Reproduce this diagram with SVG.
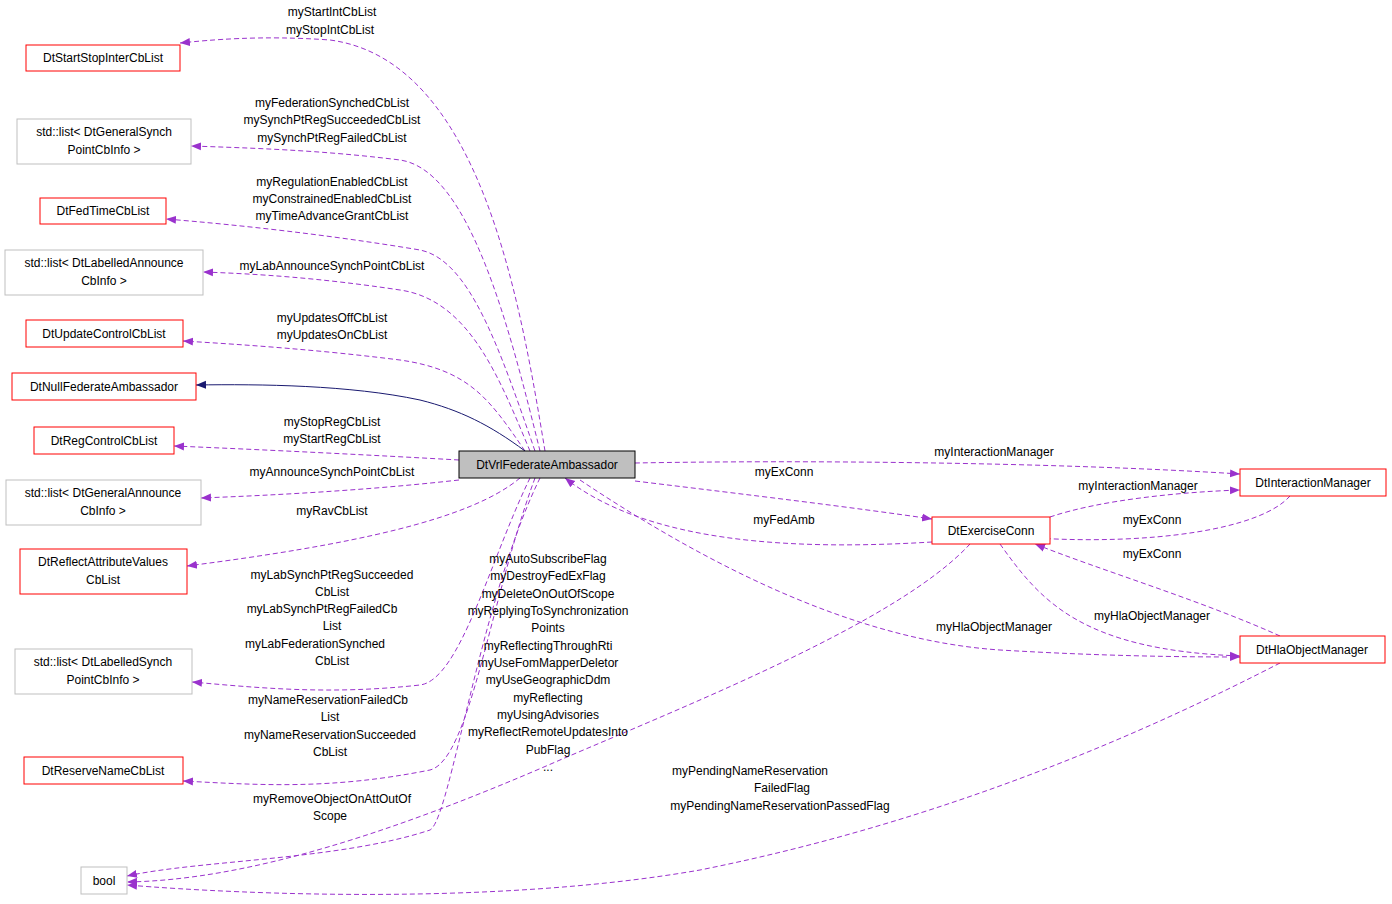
<svg xmlns="http://www.w3.org/2000/svg" width="1392" height="904" viewBox="0 0 1392 904">
<style>
text{font-family:"Liberation Sans",Arial,sans-serif;font-size:12px;fill:#000;text-anchor:middle}
.r{fill:#fff;stroke:#ff0000;stroke-width:1}
.g{fill:#fff;stroke:#bfbfbf;stroke-width:1}
.e{fill:none;stroke:#9a32cd;stroke-dasharray:5,3}
.s{fill:none;stroke:#191970}
</style>
<defs>
<marker id="a" viewBox="0 0 10 10" refX="10" refY="5" markerWidth="10" markerHeight="10" markerUnits="userSpaceOnUse" orient="auto"><path d="M0,1 L10,5 L0,9z" fill="#9a32cd"/></marker>
<marker id="n" viewBox="0 0 10 10" refX="10" refY="5" markerWidth="10" markerHeight="10" markerUnits="userSpaceOnUse" orient="auto"><path d="M0,1 L10,5 L0,9z" fill="#191970"/></marker>
</defs>
<rect width="1392" height="904" fill="#fff"/>
<g id="edges">
<path class="e" marker-end="url(#a)" d="M545,451 C520,300 480,60 330,40 C260,35 210,40 180,43"/>
<path class="e" marker-end="url(#a)" d="M540,451 C510,330 470,170 400,160 C320,150 250,148 191,146"/>
<path class="e" marker-end="url(#a)" d="M535,451 C500,350 470,260 420,250 C330,235 240,225 166,219"/>
<path class="e" marker-end="url(#a)" d="M530,451 C500,380 470,300 400,290 C320,278 260,274 203,272"/>
<path class="e" marker-end="url(#a)" d="M525,451 C490,400 470,370 400,360 C320,350 250,345 183,341"/>
<path class="s" marker-end="url(#n)" d="M525,451 C490,425 460,410 420,400 C350,385 260,384 196,385"/>
<path class="e" marker-end="url(#a)" d="M459,460 C370,455 270,450 174,446"/>
<path class="e" marker-end="url(#a)" d="M459,480 C370,490 280,495 201,498"/>
<path class="e" marker-end="url(#a)" d="M520,478 C470,520 350,545 187,566"/>
<path class="e" marker-end="url(#a)" d="M530,478 C490,560 460,680 420,685 C330,695 260,688 192,682"/>
<path class="e" marker-end="url(#a)" d="M535,478 C490,600 470,760 430,770 C330,790 260,785 183,781"/>
<path class="e" marker-end="url(#a)" d="M540,478 C480,600 450,820 430,830 C340,860 200,860 127,876"/>
<path class="e" marker-end="url(#a)" d="M970,544 C900,620 700,700 560,760 C400,830 250,880 127,882"/>
<path class="e" marker-end="url(#a)" d="M1280,663 C1150,730 950,820 700,870 C500,905 250,895 127,885"/>
<path class="e" marker-end="url(#a)" d="M635,463 C800,460 1050,462 1240,474"/>
<path class="e" marker-end="url(#a)" d="M635,481 C750,495 850,507 932,519"/>
<path class="e" marker-end="url(#a)" d="M932,542 C800,550 650,545 565,478"/>
<path class="e" marker-end="url(#a)" d="M1050,517 C1100,500 1180,492 1240,490"/>
<path class="e" marker-end="url(#a)" d="M1290,496 C1260,530 1150,545 1035,538"/>
<path class="e" marker-end="url(#a)" d="M1280,636 C1200,600 1100,570 1035,544"/>
<path class="e" marker-end="url(#a)" d="M1000,544 C1040,600 1080,650 1240,656"/>
<path class="e" marker-end="url(#a)" d="M580,480 C700,560 850,640 1000,650 C1100,656 1180,657 1240,657"/>
</g>
<g id="labels">
<text x="332" y="16">myStartIntCbList</text><text x="330" y="34">myStopIntCbList</text>
<text x="332" y="107">myFederationSynchedCbList</text><text x="332" y="124">mySynchPtRegSucceededCbList</text><text x="332" y="142">mySynchPtRegFailedCbList</text>
<text x="332" y="186">myRegulationEnabledCbList</text><text x="332" y="203">myConstrainedEnabledCbList</text><text x="332" y="220">myTimeAdvanceGrantCbList</text>
<text x="332" y="270">myLabAnnounceSynchPointCbList</text>
<text x="332" y="322">myUpdatesOffCbList</text><text x="332" y="339">myUpdatesOnCbList</text>
<text x="332" y="426">myStopRegCbList</text><text x="332" y="443">myStartRegCbList</text>
<text x="332" y="476">myAnnounceSynchPointCbList</text>
<text x="332" y="515">myRavCbList</text>
<text x="332" y="579">myLabSynchPtRegSucceeded</text><text x="332" y="596">CbList</text><text x="322" y="613">myLabSynchPtRegFailedCb</text><text x="332" y="630">List</text><text x="315" y="648">myLabFederationSynched</text><text x="332" y="665">CbList</text>
<text x="328" y="704">myNameReservationFailedCb</text><text x="330" y="721">List</text><text x="330" y="739">myNameReservationSucceeded</text><text x="330" y="756">CbList</text>
<text x="332" y="803">myRemoveObjectOnAttOutOf</text><text x="330" y="820">Scope</text>
<text x="548" y="563">myAutoSubscribeFlag</text><text x="548" y="580">myDestroyFedExFlag</text><text x="548" y="598">myDeleteOnOutOfScope</text><text x="548" y="615">myReplyingToSynchronization</text><text x="548" y="632">Points</text><text x="548" y="650">myReflectingThroughRti</text><text x="548" y="667">myUseFomMapperDeletor</text><text x="548" y="684">myUseGeographicDdm</text><text x="548" y="702">myReflecting</text><text x="548" y="719">myUsingAdvisories</text><text x="548" y="736">myReflectRemoteUpdatesInto</text><text x="548" y="754">PubFlag</text><text x="548" y="771">...</text>
<text x="750" y="775">myPendingNameReservation</text><text x="782" y="792">FailedFlag</text><text x="780" y="810">myPendingNameReservationPassedFlag</text>
<text x="994" y="456">myInteractionManager</text>
<text x="784" y="476">myExConn</text>
<text x="784" y="524">myFedAmb</text>
<text x="1138" y="490">myInteractionManager</text>
<text x="1152" y="524">myExConn</text>
<text x="1152" y="558">myExConn</text>
<text x="1152" y="620">myHlaObjectManager</text>
<text x="994" y="631">myHlaObjectManager</text>
</g>
<g id="n1"><rect class="r" x="26" y="45" width="154" height="26"/><text x="103" y="62">DtStartStopInterCbList</text></g>
<g id="n2"><rect class="g" x="17" y="119" width="174" height="45"/><text x="104" y="136">std::list&lt; DtGeneralSynch</text><text x="104" y="154">PointCbInfo &gt;</text></g>
<g id="n3"><rect class="r" x="40" y="198" width="126" height="26"/><text x="103" y="215">DtFedTimeCbList</text></g>
<g id="n4"><rect class="g" x="5" y="250" width="198" height="45"/><text x="104" y="267">std::list&lt; DtLabelledAnnounce</text><text x="104" y="285">CbInfo &gt;</text></g>
<g id="n5"><rect class="r" x="26" y="320" width="157" height="27"/><text x="104" y="338">DtUpdateControlCbList</text></g>
<g id="n6"><rect class="r" x="12" y="373" width="184" height="27"/><text x="104" y="391">DtNullFederateAmbassador</text></g>
<g id="n7"><rect class="r" x="34" y="427" width="140" height="27"/><text x="104" y="445">DtRegControlCbList</text></g>
<g id="n8"><rect class="g" x="6" y="480" width="195" height="45"/><text x="103" y="497">std::list&lt; DtGeneralAnnounce</text><text x="103" y="515">CbInfo &gt;</text></g>
<g id="n9"><rect class="r" x="20" y="549" width="167" height="45"/><text x="103" y="566">DtReflectAttributeValues</text><text x="103" y="584">CbList</text></g>
<g id="n10"><rect class="g" x="15" y="649" width="177" height="45"/><text x="103" y="666">std::list&lt; DtLabelledSynch</text><text x="103" y="684">PointCbInfo &gt;</text></g>
<g id="n11"><rect class="r" x="24" y="757" width="159" height="27"/><text x="103" y="775">DtReserveNameCbList</text></g>
<g id="n12"><rect class="g" x="81" y="867" width="46" height="27"/><text x="104" y="885">bool</text></g>
<g id="n13"><rect x="459" y="451" width="176" height="27" fill="#bfbfbf" stroke="#000"/><text x="547" y="469">DtVrlFederateAmbassador</text></g>
<g id="n14"><rect class="r" x="932" y="517" width="118" height="27"/><text x="991" y="535">DtExerciseConn</text></g>
<g id="n15"><rect class="r" x="1240" y="469" width="146" height="27"/><text x="1313" y="487">DtInteractionManager</text></g>
<g id="n16"><rect class="r" x="1240" y="636" width="145" height="27"/><text x="1312" y="654">DtHlaObjectManager</text></g>
</svg>
